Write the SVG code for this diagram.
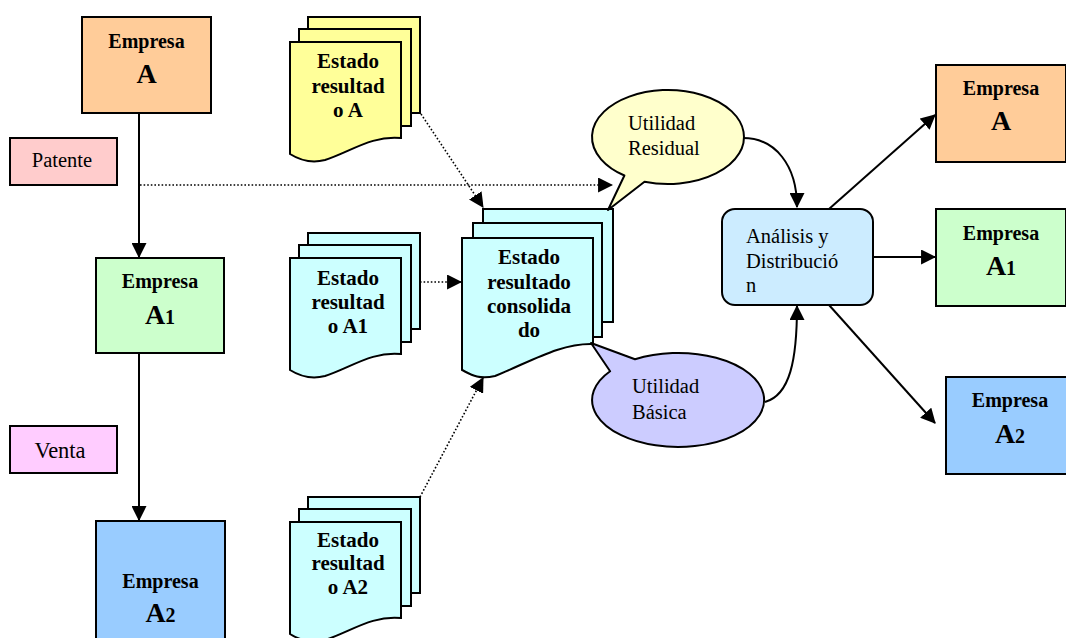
<svg xmlns="http://www.w3.org/2000/svg" width="1066" height="638" viewBox="0 0 1066 638">
<defs>
<style>
.box{stroke:#000;stroke-width:2}
.doc{stroke:#000;stroke-width:2}
.bt{font-family:"Liberation Serif","Times New Roman",serif;font-weight:bold;font-size:20px;text-anchor:middle;fill:#000}
.dt{font-size:21px}
.big{font-size:28px}
.sub{font-size:20px}
.rt{font-family:"Liberation Serif","Times New Roman",serif;font-size:20.5px;fill:#000}
.line{stroke:#000;stroke-width:2;fill:none}
.dot{stroke:#000;stroke-width:1.6;fill:none;stroke-dasharray:1.6 2}
</style>
<marker id="arr" markerUnits="userSpaceOnUse" viewBox="0 0 14 14" markerWidth="15" markerHeight="15" refX="13" refY="7" orient="auto">
<path d="M0,0 L14,7 L0,14 z" fill="#000"/>
</marker>
</defs>
<rect width="1066" height="638" fill="#fff"/>

<g id="connectors">
<line class="line" x1="139" y1="113" x2="139" y2="257" marker-end="url(#arr)"/>
<line class="line" x1="139" y1="353" x2="139" y2="520" marker-end="url(#arr)"/>
<line class="dot" x1="140" y1="185" x2="612" y2="185" marker-end="url(#arr)"/>
<line class="dot" x1="421" y1="114" x2="483" y2="207" marker-end="url(#arr)"/>
<line class="dot" x1="420" y1="282" x2="461" y2="282" marker-end="url(#arr)"/>
<line class="dot" x1="420" y1="497" x2="483" y2="378" marker-end="url(#arr)"/>
<path class="line" d="M743,138 C775,138 797,165 797,207" marker-end="url(#arr)"/>
<path class="line" d="M765,402 C790,395 797,360 797,306" marker-end="url(#arr)"/>
<line class="line" x1="829" y1="209" x2="935" y2="115" marker-end="url(#arr)"/>
<line class="line" x1="873" y1="257" x2="935" y2="257" marker-end="url(#arr)"/>
<line class="line" x1="829" y1="305" x2="935" y2="423" marker-end="url(#arr)"/>
</g>

<g id="empresaA">
<rect class="box" x="82" y="17" width="129" height="96" fill="#FFCC99"/>
<text class="bt" x="146.5" y="48">Empresa</text>
<text class="bt big" x="146.5" y="83">A</text>
</g>
<g id="patente">
<rect class="box" x="10" y="138" width="107" height="47" fill="#FFCCCC"/>
<text class="rt" x="62" y="167" text-anchor="middle">Patente</text>
</g>
<g id="empresaA1">
<rect class="box" x="96" y="258" width="128" height="95" fill="#CCFFCC"/>
<text class="bt" x="160" y="288">Empresa</text>
<text class="bt" x="160" y="324"><tspan class="big">A</tspan><tspan class="sub">1</tspan></text>
</g>
<g id="venta">
<rect class="box" x="10" y="426" width="107" height="47" fill="#FFCCFF"/>
<text class="rt" x="60" y="458" text-anchor="middle" style="font-size:22.5px">Venta</text>
</g>
<g id="empresaA2">
<rect class="box" x="96" y="521" width="129" height="130" fill="#99CCFF"/>
<text class="bt" x="160.5" y="588">Empresa</text>
<text class="bt" x="160.5" y="622"><tspan class="big">A</tspan><tspan class="sub">2</tspan></text>
</g>

<g id="estadoA">
<rect class="doc" x="308" y="17" width="112" height="96" fill="#FFFF99"/>
<rect class="doc" x="299" y="29" width="112" height="97" fill="#FFFF99"/>
<path class="doc" d="M290,42 H401 V138 C372,135 350,152 325,160 C310,164 298,159 290,154 Z" fill="#FFFF99"/>
<text class="bt dt" x="348" y="68">Estado</text>
<text class="bt dt" x="348" y="93">resultad</text>
<text class="bt dt" x="348" y="117">o A</text>
</g>
<g id="estadoA1" transform="translate(0,216)">
<rect class="doc" x="308" y="17" width="112" height="96" fill="#CCFFFF"/>
<rect class="doc" x="299" y="29" width="112" height="97" fill="#CCFFFF"/>
<path class="doc" d="M290,42 H401 V138 C372,135 350,152 325,160 C310,164 298,159 290,154 Z" fill="#CCFFFF"/>
<text class="bt dt" x="348" y="69">Estado</text>
<text class="bt dt" x="348" y="93">resultad</text>
<text class="bt dt" x="348" y="117">o A1</text>
</g>
<g id="estadoA2" transform="translate(0,480)">
<rect class="doc" x="308" y="17" width="112" height="96" fill="#CCFFFF"/>
<rect class="doc" x="299" y="29" width="112" height="97" fill="#CCFFFF"/>
<path class="doc" d="M290,42 H401 V138 C372,135 350,152 325,160 C310,164 298,159 290,154 Z" fill="#CCFFFF"/>
<text class="bt dt" x="348" y="67">Estado</text>
<text class="bt dt" x="348" y="90">resultad</text>
<text class="bt dt" x="348" y="114">o A2</text>
</g>

<g id="consolidado">
<rect class="doc" x="483" y="209" width="130" height="113" fill="#CCFFFF"/>
<rect class="doc" x="473" y="223" width="129" height="114" fill="#CCFFFF"/>
<path class="doc" d="M462,238 H593 V344 C560,343 530,362 495,376 C478,380 470,374 462,370 Z" fill="#CCFFFF"/>
<text class="bt dt" x="529" y="264">Estado</text>
<text class="bt dt" x="529" y="289">resultado</text>
<text class="bt dt" x="529" y="313">consolida</text>
<text class="bt dt" x="529" y="337">do</text>
</g>

<g id="utilidadResidual">
<path d="M644.5,181.7 A76,47 0 1,0 624.4,175.5 L608,210 Z" fill="#FFFFCC" stroke="#000" stroke-width="2" stroke-linejoin="round"/>
<text class="rt" x="628" y="130">Utilidad</text>
<text class="rt" x="628" y="155">Residual</text>
</g>
<g id="utilidadBasica">
<path d="M610.1,371.2 A86,47 0 1,0 635,359.3 L591,343 Z" fill="#CCCCFF" stroke="#000" stroke-width="2" stroke-linejoin="round"/>
<text class="rt" x="632" y="393">Utilidad</text>
<text class="rt" x="632" y="419">Básica</text>
</g>

<g id="analisis">
<rect class="box" x="722" y="209" width="151" height="96" rx="13" ry="13" fill="#CCECFF"/>
<text class="rt" x="746" y="243">Análisis y</text>
<text class="rt" x="746" y="268">Distribució</text>
<text class="rt" x="746" y="292">n</text>
</g>

<g id="empresaA_r">
<rect class="box" x="936" y="65" width="130" height="97" fill="#FFCC99"/>
<text class="bt" x="1001" y="95">Empresa</text>
<text class="bt big" x="1001" y="130">A</text>
</g>
<g id="empresaA1_r">
<rect class="box" x="936" y="209" width="130" height="97" fill="#CCFFCC"/>
<text class="bt" x="1001" y="240">Empresa</text>
<text class="bt" x="1001" y="275"><tspan class="big">A</tspan><tspan class="sub">1</tspan></text>
</g>
<g id="empresaA2_r">
<rect class="box" x="946" y="377" width="130" height="97" fill="#99CCFF"/>
<text class="bt" x="1010" y="407">Empresa</text>
<text class="bt" x="1010" y="443"><tspan class="big">A</tspan><tspan class="sub">2</tspan></text>
</g>
</svg>
